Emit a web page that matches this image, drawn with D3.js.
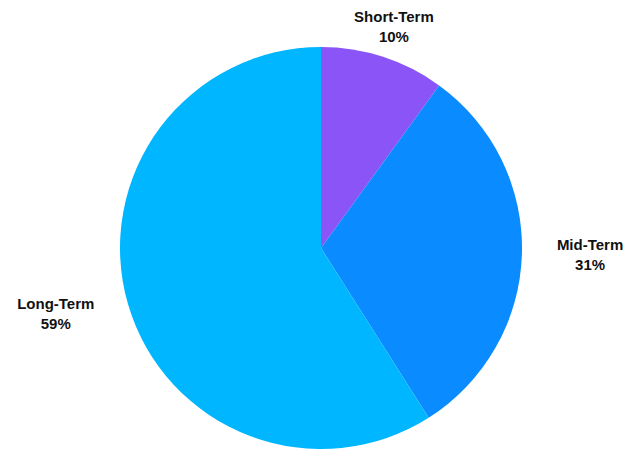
<!DOCTYPE html>
<html>
<head>
<meta charset="utf-8">
<script src="https://cdn.jsdelivr.net/npm/d3@7"></script>
<style>
  body { margin: 0; background: #fff; }
  text { font-family: "Liberation Sans", Arial, Helvetica, sans-serif; font-weight: bold; font-size: 15px; fill: #111; }
</style>
</head>
<body>
<div id="chart"></div>
<script>
var categories = ["Short-Term", "Mid-Term", "Long-Term"];
var values = [10, 31, 59];
var colors = ["#8B54F7", "#0A8BFF", "#00B7FF"];

var width = 641, height = 455,
    cx = 321, cy = 248, radius = 201;

var svg = d3.select("#chart")
  .append("svg")
  .attr("width", width)
  .attr("height", height)
  .append("g")
  .attr("transform", "translate(" + cx + "," + cy + ")");

var pie = d3.pie().sort(null).value(function(d) { return d; });
var arc = d3.arc().innerRadius(0).outerRadius(radius);

var arcs = pie(values);

svg.selectAll("path")
  .data(arcs)
  .enter()
  .append("path")
  .attr("d", arc)
  .attr("fill", function(d, i) { return colors[i]; });

// labels outside the pie, two lines, block centred on the anchor point
var labelR = radius + 35;
var total = d3.sum(values);

svg.selectAll("g.lbl")
  .data(arcs)
  .enter()
  .append("g")
  .attr("class", "lbl")
  .each(function(d, i) {
    var a = (d.startAngle + d.endAngle) / 2;
    var sx = Math.sin(a), sy = -Math.cos(a);
    var x = sx * labelR, y = sy * labelR;
    if (Math.abs(sx) < 0.5) y += 3;
    var g = d3.select(this);
    var t1 = g.append("text").attr("y", y - 5).attr("text-anchor", "middle").text(categories[i]);
    var t2 = g.append("text").attr("y", y + 15).attr("text-anchor", "middle")
      .text(Math.round(d.data / total * 100) + "%");
    var w = t1.node().getComputedTextLength();
    var mid = x;
    if (sx > 0.5) mid = x + w / 2;
    else if (sx < -0.5) mid = x - w / 2;
    t1.attr("x", mid);
    t2.attr("x", mid);
  });
</script>
</body>
</html>
